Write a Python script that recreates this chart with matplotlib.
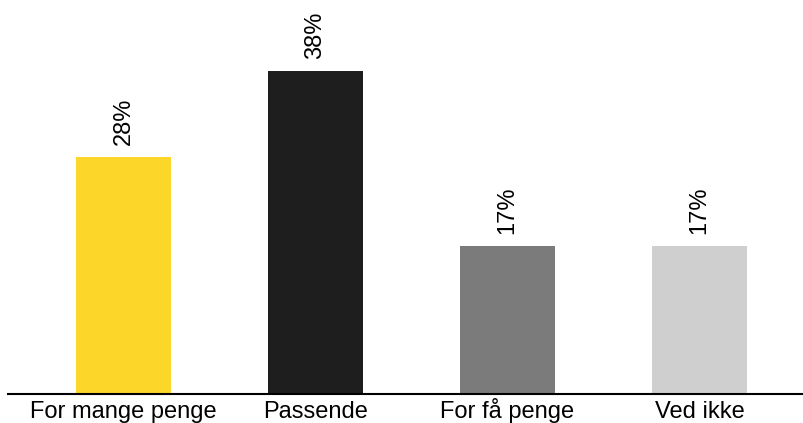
import numpy as np
import matplotlib.pyplot as plt

plt.rcParams['font.family'] = ['Liberation Sans', 'DejaVu Sans']

# Data
categories = ['For mange penge', 'Passende', 'For få penge', 'Ved ikke']
values = [27.9, 38.0, 17.4, 17.4]
labels = ['28%', '38%', '17%', '17%']
colors = ['#FDD62A', '#1E1E1E', '#7B7B7B', '#CFCFCF']

fig = plt.figure(figsize=(8.04, 4.23), dpi=100)
ax = fig.add_axes([8 / 804, 29 / 423, 796 / 804, 394 / 423])

x = np.arange(len(categories))
ax.bar(x, values, width=0.495, color=colors)

for xi, v, lab in zip(x, values, labels):
    ax.annotate(lab, (xi, v), xytext=(0, 8.5), textcoords='offset points',
                rotation=90, ha='center', va='bottom', fontsize=17)

ax.set_xlim(-0.6016, 3.544)
ax.set_ylim(0, 46.35)
ax.set_xticks(x)
ax.set_xticklabels(categories, fontsize=17)
ax.tick_params(axis='x', length=0, pad=17.3)
for t in ax.get_xticklabels():
    t.set_va('baseline')
ax.set_yticks([])
for side in ['top', 'right', 'left']:
    ax.spines[side].set_visible(False)
ax.spines['bottom'].set_linewidth(1.5)

fig.savefig('out.png', dpi=100)
